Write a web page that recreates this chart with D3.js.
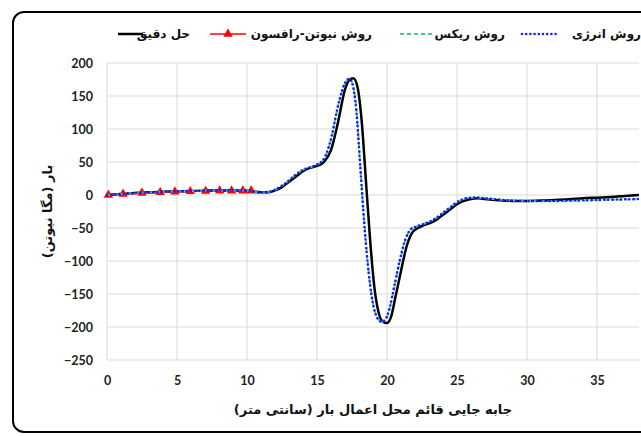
<!DOCTYPE html>
<html>
<head>
<meta charset="utf-8">
<script src="https://cdn.jsdelivr.net/npm/d3@7"></script>
<style>
  body { margin: 0; background: #fff; }
  svg { display: block; }
  .tick text { font-family: Lato, "Open Sans", sans-serif; font-weight: bold; font-size: 12.5px; fill: #222; }
  .fa { font-family: "DejaVu Sans", sans-serif; font-weight: bold; font-size: 13px; fill: #111; }
  .lg { font-size: 12px; }
</style>
</head>
<body>
<svg id="chart" width="641" height="436"></svg>
<script>
// values
const xExact = [0, 1, 2, 3, 4, 5, 6, 7, 8, 9, 10, 11, 11.5, 12, 12.5, 13, 13.5, 14, 14.5, 15, 15.5, 16, 16.5, 17, 17.3, 17.6, 17.9, 18.2, 18.5, 18.8, 19.1, 19.4, 19.7, 20, 20.3, 20.6, 21, 21.4, 21.8, 22.2, 22.6, 23, 23.5, 24, 24.5, 25, 25.5, 26, 26.5, 27, 28, 29, 30, 31, 32, 33, 34, 35, 36, 37, 38];
const yExact = [0, 1.5, 3, 4, 5, 5.5, 6, 6.5, 7, 7, 6.5, 4, 4, 7, 12, 20, 28, 36, 41, 44, 50, 68, 110, 160, 174, 177, 163, 110, 20, -70, -140, -178, -192, -194, -184, -155, -115, -78, -57, -50, -46, -43, -38, -30, -22, -14, -9, -6, -5, -6, -8, -9, -9, -8.5, -7.5, -6.5, -5, -4, -3, -1.5, 0];

const xNewton = [0.1, 1.15, 2.5, 3.8, 4.85, 5.95, 7.05, 8.05, 8.9, 9.7, 10.3];
const yNewton = [0, 1.5, 3, 4, 5, 5.5, 6, 6.5, 6.5, 6.5, 6.5];

const xApprox = [0, 1, 2, 3, 4, 5, 6, 7, 8, 9, 10, 11, 11.5, 12, 12.5, 13, 13.5, 14, 14.5, 15, 15.5, 16, 16.5, 17, 17.3, 17.5, 17.8, 18.1, 18.4, 18.7, 19, 19.3, 19.6, 19.9, 20.2, 20.5, 20.9, 21.3, 21.7, 22.2, 22.6, 23, 23.5, 24, 24.5, 25, 25.5, 26, 26.5, 27, 28, 29, 30, 31, 32, 33, 34, 35, 36, 37, 38];
const yEnergy = [0, 1.5, 3, 4, 5, 5.5, 6, 6.5, 7, 7, 6.5, 4, 4.5, 8, 14, 22, 31, 38, 42, 46, 55, 85, 135, 170, 176, 170, 130, 40, -50, -120, -165, -186, -192, -188, -170, -140, -100, -68, -52, -47, -44, -41, -35, -27, -19, -11, -6, -4, -4, -5, -7, -8.5, -9, -9, -9, -8.5, -8, -7.5, -7, -6.5, -6];
const yRitz = [0, 1.5, 3, 4, 5, 5.5, 6, 6.5, 7, 7, 6.5, 4, 4.5, 8, 14, 22, 31, 38, 42, 46, 55, 84, 134, 169, 176, 171, 132, 42, -48, -118, -164, -186, -192, -189, -171, -142, -102, -69, -52, -47, -44, -41, -35, -27, -19, -11, -6, -4, -4, -5, -7, -8.5, -9, -9.5, -9.5, -9, -8.5, -8, -7.5, -7, -6.5];

const xTicks = [0, 5, 10, 15, 20, 25, 30, 35];
const yTicks = [-250, -200, -150, -100, -50, 0, 50, 100, 150, 200];

const legendNames = ["حل دقیق", "روش نیوتن-رافسون", "روش ریکس", "روش انرژی"];
const xTitle = "جابه جایی قائم محل اعمال بار (سانتی متر)";
const yTitle = "بار (مگا نیوتن)";

const svg = d3.select("#chart");

// outer frame
svg.append("rect")
  .attr("x", 13).attr("y", 12)
  .attr("width", 650).attr("height", 420)
  .attr("rx", 11)
  .attr("fill", "#fff")
  .attr("stroke", "#000")
  .attr("stroke-width", 2);

const x = d3.scaleLinear().domain([0, 38]).range([107, 639]);
const y = d3.scaleLinear().domain([-250, 200]).range([360, 63]);

// grid
svg.append("g")
  .selectAll("line")
  .data(yTicks)
  .join("line")
  .attr("x1", x(0)).attr("x2", x(38))
  .attr("y1", d => y(d)).attr("y2", d => y(d))
  .attr("stroke", "#d9d9d9").attr("stroke-width", 1);

svg.append("g")
  .selectAll("line")
  .data(xTicks)
  .join("line")
  .attr("x1", d => x(d)).attr("x2", d => x(d))
  .attr("y1", y(200)).attr("y2", y(-250))
  .attr("stroke", "#d9d9d9").attr("stroke-width", 1);

// axes (labels only)
const xAxis = svg.append("g")
  .attr("transform", `translate(0,${y(-250)})`)
  .call(d3.axisBottom(x).tickValues(xTicks).tickSize(0).tickPadding(16));
xAxis.select(".domain").remove();

const yAxis = svg.append("g")
  .attr("transform", `translate(${x(0)},0)`)
  .call(d3.axisLeft(y).tickValues(yTicks).tickSize(0).tickPadding(14));
yAxis.select(".domain").remove();

// titles
svg.append("text")
  .attr("class", "fa")
  .attr("x", (x(0) + x(38)) / 2)
  .attr("y", 414)
  .attr("text-anchor", "middle")
  .attr("direction", "rtl")
  .text(xTitle);

svg.append("text")
  .attr("class", "fa")
  .attr("transform", `translate(52,${y(-25)}) rotate(-90)`)
  .attr("text-anchor", "middle")
  .attr("direction", "rtl")
  .text(yTitle);

// series
const line = d3.line().curve(d3.curveMonotoneX);

const exactPts = xExact.map((d, i) => [x(d), y(yExact[i])]);
const newtonPts = xNewton.map((d, i) => [x(d), y(yNewton[i])]);
const ritzPts = xApprox.map((d, i) => [x(d), y(yRitz[i])]);
const energyPts = xApprox.map((d, i) => [x(d), y(yEnergy[i])]);

svg.append("path")
  .attr("d", line(exactPts))
  .attr("fill", "none").attr("stroke", "#000").attr("stroke-width", 2.5);

svg.append("path")
  .attr("d", line(newtonPts))
  .attr("fill", "none").attr("stroke", "#ff0000").attr("stroke-width", 1.5);

const tri = d3.symbol().type(d3.symbolTriangle).size(38);
svg.append("g")
  .selectAll("path")
  .data(newtonPts)
  .join("path")
  .attr("d", tri)
  .attr("transform", d => `translate(${d[0]},${d[1]})`)
  .attr("fill", "#ff0000");

svg.append("path")
  .attr("d", line(ritzPts))
  .attr("fill", "none").attr("stroke", "#3fcf8a").attr("stroke-width", 2)
  .attr("stroke-dasharray", "4,3");

svg.append("path")
  .attr("d", line(energyPts))
  .attr("fill", "none").attr("stroke", "#1a1aff").attr("stroke-width", 2.6)
  .attr("stroke-linecap", "round")
  .attr("stroke-dasharray", "0,4.2");

// legend
const legendY = 38;
const legend = [
  { name: legendNames[0], x0: 118, x1: 143, tx: 190, color: "#000", dash: null, w: 2.5, cap: "butt" },
  { name: legendNames[1], x0: 210, x1: 246, tx: 372, color: "#ff0000", dash: null, w: 1.5, cap: "butt", marker: true },
  { name: legendNames[2], x0: 400, x1: 432, tx: 505, color: "#3fcf8a", dash: "4,3", w: 2, cap: "butt" },
  { name: legendNames[3], x0: 522, x1: 556, tx: 641, color: "#1a1aff", dash: "0,4.2", w: 2.6, cap: "round" }
];

const lg = svg.append("g")
  .selectAll("g")
  .data(legend)
  .join("g");

lg.append("line")
  .attr("x1", d => d.x0).attr("x2", d => d.x1)
  .attr("y1", legendY - 4).attr("y2", legendY - 4)
  .attr("stroke", d => d.color)
  .attr("stroke-width", d => d.w)
  .attr("stroke-linecap", d => d.cap)
  .attr("stroke-dasharray", d => d.dash);

lg.filter(d => d.marker)
  .append("path")
  .attr("d", tri)
  .attr("transform", d => `translate(${(d.x0 + d.x1) / 2},${legendY - 4})`)
  .attr("fill", "#ff0000");

lg.append("text")
  .attr("class", "fa lg")
  .attr("x", d => d.tx)
  .attr("y", legendY)
  .attr("text-anchor", "start")
  .attr("direction", "rtl")
  .text(d => d.name);
</script>
</body>
</html>
